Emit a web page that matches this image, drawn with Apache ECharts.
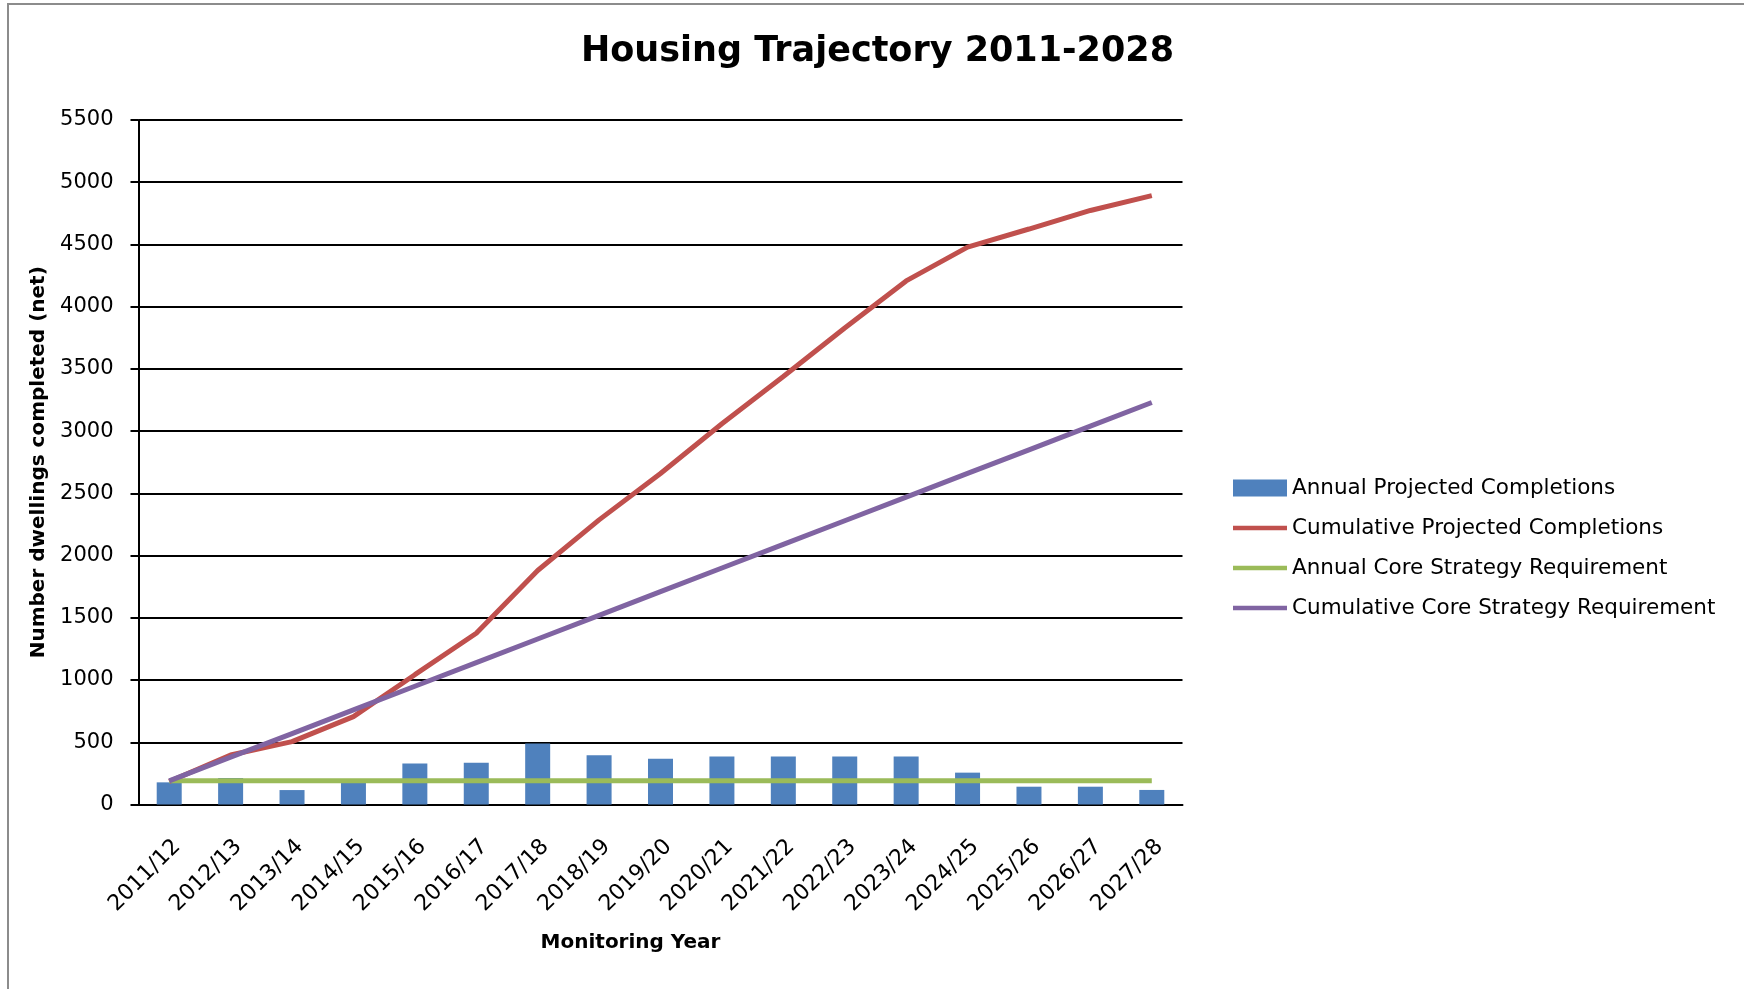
<!DOCTYPE html>
<html>
<head>
<meta charset="utf-8">
<script src="https://cdn.jsdelivr.net/npm/echarts@6/dist/echarts.min.js"></script>
<style>html,body{margin:0;padding:0;background:#fff}#c{width:1744px;height:989px}</style>
</head>
<body>
<div id="c"></div>
<script>
const categories = ['2011/12','2012/13','2013/14','2014/15','2015/16','2016/17','2017/18','2018/19','2019/20','2020/21','2021/22','2022/23','2023/24','2024/25','2025/26','2026/27','2027/28'];
const annualProjected = [178, 213, 116, 192, 330, 336, 490, 395, 368, 385, 385, 385, 385, 256, 143, 143, 117];
const cumulativeProjected = [185, 398, 505, 706, 1043, 1376, 1880, 2287, 2660, 3059, 3439, 3828, 4207, 4479, 4624, 4773, 4892];
const annualRequirement = [190,190,190,190,190,190,190,190,190,190,190,190,190,190,190,190,190];
const cumulativeRequirement = [190, 380, 570, 760, 950, 1140, 1330, 1520, 1710, 1900, 2090, 2280, 2470, 2660, 2850, 3040, 3230];
const yTicks = {min: 0, max: 5500, interval: 500};

const FONT = 'DejaVu Sans';
const LINE_ICON = 'path://M0,0H54V4.5H0Z';
const chart = echarts.init(document.getElementById('c'), null, {renderer: 'canvas'});
chart.setOption({
  backgroundColor: '#fff',
  animation: false,
  textStyle: {fontFamily: FONT, color: '#000'},
  title: {
    text: 'Housing Trajectory 2011-2028',
    left: 576,
    top: 29,
    textStyle: {fontFamily: FONT, fontWeight: 'bold', fontSize: 35, color: '#000'}
  },
  graphic: [{
    type: 'rect',
    shape: {x: 8, y: 4, width: 2000, height: 2000},
    style: {fill: 'none', stroke: '#8c8c8c', lineWidth: 2},
    silent: true, z: -1
  }],
  legend: {
    orient: 'vertical',
    left: 1233,
    top: 477,
    padding: 0,
    itemWidth: 54,
    itemHeight: 17,
    itemGap: 18,
    symbolKeepAspect: true,
    textStyle: {fontFamily: FONT, fontSize: 21.5, color: '#000', lineHeight: 17},
    data: [
      {name: 'Annual Projected Completions', icon: 'rect'},
      {name: 'Cumulative Projected Completions', icon: LINE_ICON},
      {name: 'Annual Core Strategy Requirement', icon: LINE_ICON},
      {name: 'Cumulative Core Strategy Requirement', icon: LINE_ICON}
    ]
  },
  grid: {left: 138.5, right: 561.5, top: 120, bottom: 184.5, containLabel: false},
  xAxis: {
    type: 'category',
    data: categories,
    boundaryGap: true,
    axisLine: {lineStyle: {color: '#000', width: 2}},
    axisTick: {show: false},
    axisLabel: {rotate: 45, margin: 31, verticalAlign: 'top', fontFamily: FONT, fontSize: 22, color: '#000', interval: 0},
    name: 'Monitoring Year',
    nameLocation: 'middle',
    nameGap: 128,
    nameTextStyle: {fontFamily: FONT, fontWeight: 'bold', fontSize: 20, color: '#000', padding: [0, 60, 0, 0]}
  },
  yAxis: {
    type: 'value',
    min: yTicks.min, max: yTicks.max, interval: yTicks.interval,
    axisLine: {show: true, lineStyle: {color: '#000', width: 2}},
    axisTick: {show: true, length: 8, lineStyle: {color: '#000', width: 2}},
    splitLine: {show: true, lineStyle: {color: '#000', width: 2}},
    axisLabel: {margin: 25, fontFamily: FONT, fontSize: 21, color: '#000', formatter: function (v) { return String(v); }},
    name: 'Number dwellings completed (net)',
    nameLocation: 'middle',
    nameGap: 76,
    nameTextStyle: {fontFamily: FONT, fontWeight: 'bold', fontSize: 20, color: '#000'}
  },
  series: [
    {name: 'Annual Projected Completions', type: 'bar', data: annualProjected, barWidth: 25,
     itemStyle: {color: '#4F81BD'}, z: 2},
    {name: 'Cumulative Projected Completions', type: 'line', data: cumulativeProjected, symbol: 'none',
     lineStyle: {color: '#C0504D', width: 5}, itemStyle: {color: '#C0504D'}, z: 3},
    {name: 'Annual Core Strategy Requirement', type: 'line', data: annualRequirement, symbol: 'none',
     lineStyle: {color: '#9BBB59', width: 5}, itemStyle: {color: '#9BBB59'}, z: 4},
    {name: 'Cumulative Core Strategy Requirement', type: 'line', data: cumulativeRequirement, symbol: 'none',
     lineStyle: {color: '#8064A2', width: 5}, itemStyle: {color: '#8064A2'}, z: 5}
  ]
});
</script>
</body>
</html>
